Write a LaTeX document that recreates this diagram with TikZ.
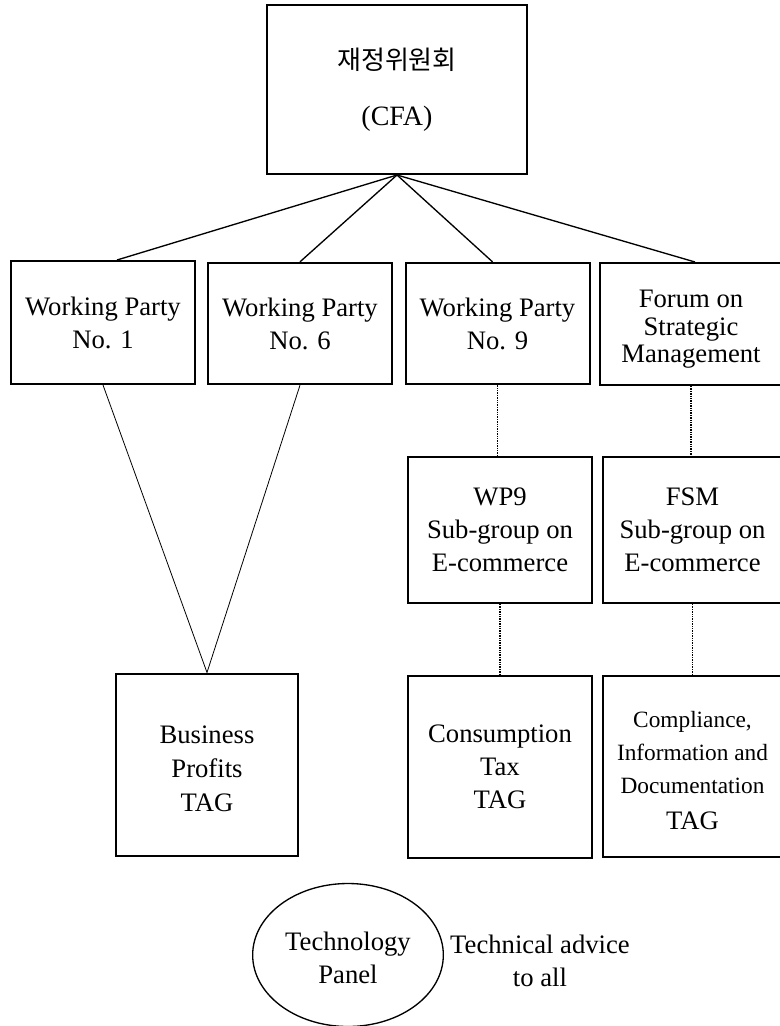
\documentclass[tikz,border=0pt]{standalone}
\usepackage{fontspec}
\setmainfont{Liberation Serif}
\newfontfamily\krfont{Noto Sans CJK KR}
\usetikzlibrary{positioning,shapes.geometric}

\tikzset{
  box/.style={draw, line width=1.5pt, align=center, inner sep=0pt,
    font=\fontsize{20}{24.75}\selectfont},
  wpbox/.style={box, minimum width=138pt, minimum height=91pt},
  subbox/.style={box, minimum width=138pt, minimum height=109.5pt},
  tagbox/.style={box, minimum width=138pt, minimum height=136.5pt},
  link/.style={line width=1pt},
  thinlink/.style={line width=0.6pt},
  dotlink/.style={line width=0.9pt, dash pattern=on 1pt off 0.8pt}
}

\begin{document}
\begin{tikzpicture}[x=0.75pt, y=-0.75pt]

\useasboundingbox (0,0) rectangle (780,1026);

% Committee
\node[box, minimum width=195pt, minimum height=126.75pt] (cfa) at (397,89.5)
  {{\krfont\fontsize{19.5}{20}\selectfont 재정위원회}\\[17pt]{\fontsize{21}{22}\selectfont (CFA)}};

% Working parties
\node[wpbox, minimum height=92.25pt] (wp1) at (103,322.5) {Working Party\\No. 1};
\node[wpbox] (wp6) at (300,323.5) {Working Party\\No. 6};
\node[wpbox] (wp9) at (497.5,323.5) {Working Party\\No. 9};
\node[wpbox, minimum width=136pt, minimum height=91.5pt,
  font=\fontsize{20}{20.5}\selectfont] (fsm) at (691,324)
  {\rule{0pt}{21pt}Forum on\\Strategic\\Management};

% Sub-groups
\node[subbox] (wp9sub) at (500,530) {WP9\\Sub-group on\\E-commerce};
\node[subbox, minimum width=134.25pt] (fsmsub) at (692.5,530) {FSM\\Sub-group on\\E-commerce};

% TAGs
\node[tagbox, minimum width=136.5pt, font=\fontsize{20}{25.5}\selectfont] (bptag) at (207,764.5)
  {\rule{0pt}{20pt}Business\\Profits\\TAG};
\node[tagbox] (cttag) at (500,767) {Consumption\\Tax\\TAG};
\node[tagbox, minimum width=134.25pt, minimum height=135.75pt] (cidtag) at (692.5,766.5)
  {{\fontsize{17.5}{24.75}\selectfont \rule{0pt}{18pt}Compliance,}\\
   {\fontsize{17.5}{24.75}\selectfont Information and}\\
   {\fontsize{17.5}{24.75}\selectfont Documentation}\\[2pt]TAG};

% Technology panel
\node[draw, ellipse, line width=1pt, inner sep=0pt, minimum width=143pt,
  minimum height=107.25pt, align=center, font=\fontsize{20}{24.75}\selectfont]
  (panel) at (348,955) {\rule{0pt}{18pt}Technology\\Panel};
\node[align=center, font=\fontsize{20}{24.75}\selectfont] (advice) at (540,961)
  {Technical advice\\to all};

% Committee to working parties
\draw[link] (cfa.south) -- ([xshift=10.5pt]wp1.north);
\draw[link] (cfa.south) -- (wp6.north);
\draw[link] (cfa.south) -- ([xshift=-3.75pt]wp9.north);
\draw[link] (cfa.south) -- ([xshift=3pt]fsm.north);

% Working parties to business profits
\draw[thinlink] (wp1.south) -- (bptag.north);
\draw[thinlink] (wp6.south) -- (bptag.north);

% Dotted links
\draw[dotlink] (wp9.south) -- (wp9.south |- wp9sub.north);
\draw[dotlink] (fsm.south) -- (fsm.south |- fsmsub.north);
\draw[dotlink] (wp9sub.south) -- (wp9sub.south |- cttag.north);
\draw[dotlink] (fsmsub.south) -- (fsmsub.south |- cidtag.north);

\end{tikzpicture}
\end{document}
